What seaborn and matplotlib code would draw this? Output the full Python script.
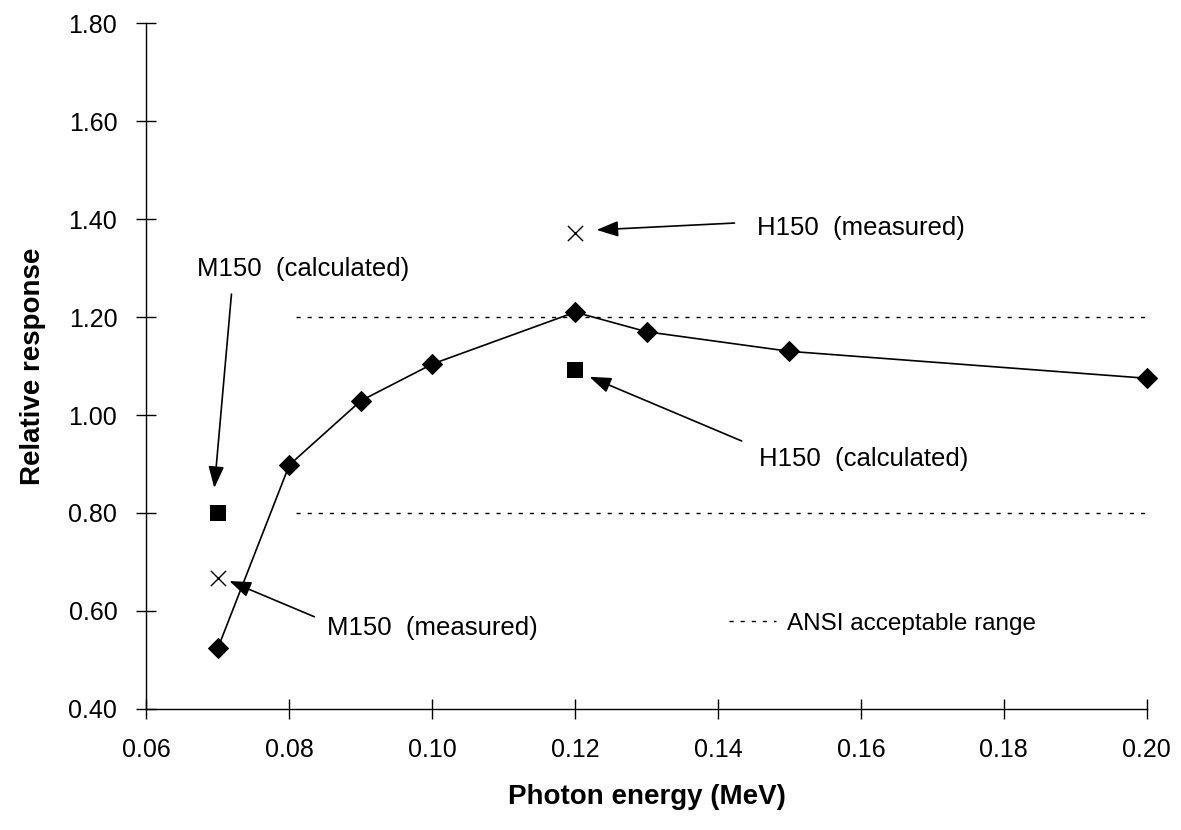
import numpy as np
import pandas as pd
import seaborn as sns
import matplotlib.pyplot as plt
from matplotlib.lines import Line2D

# ---- data ----
energy = [0.07, 0.08, 0.09, 0.10, 0.12, 0.13, 0.15, 0.20]
response = [0.524, 0.898, 1.029, 1.104, 1.210, 1.170, 1.130, 1.075]

calc_energy = [0.07, 0.12]
calc_response = [0.80, 1.092]

meas_energy = [0.07, 0.12]
meas_response = [0.667, 1.371]

ansi_x = [0.081, 0.20]
ansi_upper = [1.20, 1.20]
ansi_lower = [0.80, 0.80]

x_ticks = [0.06, 0.08, 0.10, 0.12, 0.14, 0.16, 0.18, 0.20]
y_ticks = [0.40, 0.60, 0.80, 1.00, 1.20, 1.40, 1.60, 1.80]

sns.set_theme(style="ticks")
plt.rcParams['font.family'] = ['Liberation Sans', 'DejaVu Sans']
plt.rcParams['text.color'] = 'black'
plt.rcParams['axes.labelcolor'] = 'black'
plt.rcParams['xtick.color'] = 'black'
plt.rcParams['ytick.color'] = 'black'

fig = plt.figure(figsize=(11.81, 8.30), dpi=100)
ax = fig.add_axes([0.124, 0.146, 0.847, 0.826])

df = pd.DataFrame({'energy': energy, 'response': response})
sns.lineplot(data=df, x='energy', y='response', ax=ax, color='black',
             linewidth=1.2, marker='D', markersize=10, markeredgecolor='black',
             clip_on=False)

sns.scatterplot(x=calc_energy, y=calc_response, ax=ax, marker='s', s=140,
                color='black', edgecolor='black', linewidth=0)
sns.scatterplot(x=meas_energy, y=meas_response, ax=ax, marker='x', s=120,
                color='black', linewidth=1.0)

# ANSI acceptable range
ax.plot(ansi_x, ansi_upper, color='black', linestyle=(0, (3, 5)), linewidth=1.0)
ax.plot(ansi_x, ansi_lower, color='black', linestyle=(0, (3, 5)), linewidth=1.0)

handle = Line2D([], [], color='black', linestyle=(0, (3, 5)), linewidth=1.0)
ax.legend([handle], ['ANSI acceptable range'], frameon=False, fontsize=17.5,
          loc='center left', bbox_to_anchor=(0.561, 0.124), handlelength=1.9,
          handletextpad=0.45)

# annotations
arrow = dict(arrowstyle='-|>,head_length=1.1,head_width=0.4', color='black',
             lw=1.2, shrinkA=0, shrinkB=0)
txt = dict(fontsize=18.5, va='center', ha='left')
ax.annotate('', xy=(0.123, 1.378), xytext=(0.1423, 1.392), arrowprops=arrow)
ax.text(0.1455, 1.382, 'H150  (measured)', **txt)

ax.annotate('', xy=(0.122, 1.078), xytext=(0.1433, 0.947), arrowprops=arrow)
ax.text(0.1458, 0.910, 'H150  (calculated)', **txt)

ax.annotate('', xy=(0.0695, 0.851), xytext=(0.0719, 1.247), arrowprops=arrow)
ax.text(0.0671, 1.298, 'M150  (calculated)', **txt)

ax.annotate('', xy=(0.0716, 0.661), xytext=(0.0835, 0.588), arrowprops=arrow)
ax.text(0.0853, 0.565, 'M150  (measured)', **txt)

ax.set_xlim(0.06, 0.20)
ax.set_ylim(0.40, 1.80)
ax.set_xticks(x_ticks)
ax.set_yticks(y_ticks)
ax.set_xticklabels([f"{v:.2f}" for v in x_ticks], fontsize=18)
ax.set_yticklabels([f"{v:.2f}" for v in y_ticks], fontsize=18)
ax.tick_params(direction='inout', length=14, width=1.0, color='black', pad=14)
ax.set_xlabel('Photon energy (MeV)', fontsize=20, fontweight='bold', labelpad=16)
ax.set_ylabel('Relative response', fontsize=20, fontweight='bold', labelpad=16)

sns.despine(ax=ax)
for sp in ['left', 'bottom']:
    ax.spines[sp].set_linewidth(1.0)
    ax.spines[sp].set_color('black')
ax.grid(False)

fig.savefig('out.png', dpi=100, facecolor='white')
